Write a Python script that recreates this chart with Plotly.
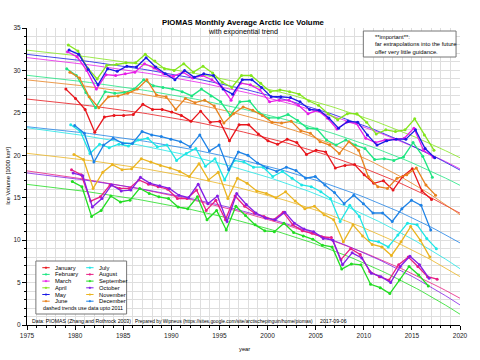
import numpy as np
import plotly.graph_objects as go

# ---------------- data (1000 km^3) ----------------
years_a = list(range(1979, 2018))   # Jan..Aug
years_b = list(range(1979, 2017))   # Sep..Dec
month_names = ["January", "February", "March", "April", "May", "June",
               "July", "August", "September", "October", "November", "December"]

jan = [27.8, 26.7, 25.4, 22.7, 24.5, 24.7, 24.7, 24.8, 26.0, 25.4,
       25.4, 25.1, 24.7, 24.0, 25.2, 23.9, 24.0, 21.7, 23.6, 23.6,
       22.5, 21.7, 21.3, 21.9, 21.5, 20.1, 20.6, 20.4, 18.5, 18.8,
       18.9, 17.7, 16.7, 17.0, 15.9, 17.5, 18.4, 15.8, 14.8]
feb = [30.2, 29.4, 27.4, 25.6, 27.5, 27.3, 27.4, 27.8, 28.9, 28.2,
       28.0, 27.8, 27.5, 27.0, 27.8, 27.0, 26.3, 24.7, 26.3, 26.4,
       25.0, 24.4, 24.4, 24.8, 24.1, 23.2, 23.1, 21.8, 21.2, 21.8,
       21.2, 20.8, 19.5, 19.6, 19.4, 19.8, 21.5, 19.9, 17.4]
mar = [32.2, 31.6, 30.0, 27.8, 29.5, 29.4, 29.6, 29.8, 30.8, 30.3,
       29.6, 29.3, 29.8, 29.1, 29.4, 28.9, 28.1, 26.5, 28.5, 28.3,
       27.7, 26.3, 26.5, 26.5, 25.9, 24.9, 25.3, 24.4, 23.1, 23.9,
       23.8, 22.0, 21.5, 21.8, 21.9, 22.0, 23.2, 20.6, 19.8]
apr = [33.0, 32.3, 30.3, 29.0, 30.6, 30.7, 30.9, 30.9, 31.9, 31.1,
       30.2, 30.0, 30.8, 29.8, 30.5, 29.7, 28.6, 28.0, 29.4, 29.4,
       28.5, 27.5, 27.7, 27.5, 27.2, 26.4, 25.9, 24.9, 24.2, 24.9,
       24.9, 23.9, 22.5, 23.0, 22.8, 23.0, 24.3, 22.4, 20.6]
may = [32.4, 31.9, 30.1, 28.3, 30.2, 29.9, 30.5, 30.4, 31.5, 30.4,
       29.6, 28.9, 30.0, 29.2, 29.6, 29.4, 27.8, 27.2, 28.9, 28.9,
       28.0, 26.9, 26.9, 26.8, 26.3, 25.4, 25.3, 24.4, 23.2, 24.0,
       23.9, 22.4, 21.2, 21.7, 21.9, 21.9, 23.0, 20.8, 19.7]
jun = [29.8, 29.1, 26.9, 25.6, 26.9, 27.0, 27.3, 27.8, 28.9, 27.1,
       26.9, 25.4, 26.7, 26.2, 26.5, 25.8, 23.8, 24.9, 25.7, 25.3,
       24.7, 23.9, 23.8, 24.0, 22.9, 22.6, 21.6, 21.2, 20.2, 21.6,
       20.6, 17.5, 16.3, 16.1, 17.3, 17.7, 18.5, 16.5, 15.3]
jul = [23.6, 22.8, 20.2, 21.3, 20.9, 21.3, 21.1, 21.8, 22.0, 21.0,
       21.2, 19.4, 20.2, 20.8, 18.7, 19.6, 17.1, 19.4, 19.2, 18.6,
       18.6, 17.5, 18.1, 17.3, 16.5, 16.3, 15.7, 14.9, 12.2, 14.1,
       12.8, 10.0, 9.8, 9.2, 10.6, 12.0, 11.8, 10.2, 9.0]
aug = [18.3, 17.7, 14.6, 15.1, 16.5, 16.1, 16.1, 17.1, 16.6, 16.3,
       16.0, 14.9, 14.9, 15.9, 13.5, 14.7, 12.4, 15.2, 14.0, 13.2,
       12.8, 12.4, 13.3, 11.8, 11.1, 10.8, 10.4, 10.3, 7.7, 9.0,
       8.3, 6.3, 5.7, 5.3, 7.1, 8.0, 6.9, 5.7, 5.4]
sep = [16.9, 16.3, 12.8, 13.5, 15.2, 14.5, 14.7, 16.1, 15.5, 15.1,
       14.9, 13.9, 13.7, 15.1, 12.4, 13.5, 11.2, 14.0, 12.9, 11.8,
       11.1, 11.0, 12.0, 10.9, 10.5, 10.1, 9.4, 9.2, 6.6, 7.2,
       7.1, 4.8, 4.4, 3.7, 5.3, 6.9, 5.9, 4.6]
oct_ = [17.9, 17.6, 13.9, 14.9, 16.5, 15.8, 15.9, 17.4, 16.7, 16.4,
        16.1, 15.3, 15.0, 16.6, 14.3, 15.2, 12.2, 15.5, 14.2, 13.2,
        12.6, 12.4, 13.3, 12.0, 11.3, 11.0, 10.2, 10.0, 7.1, 8.5,
        7.9, 6.1, 5.7, 5.0, 6.9, 8.1, 7.1, 5.5]
nov = [20.1, 19.5, 16.1, 18.0, 18.9, 18.3, 18.4, 19.6, 19.2, 18.8,
       18.5, 18.1, 17.5, 19.0, 17.1, 18.0, 14.9, 17.3, 16.7, 15.8,
       15.5, 15.0, 15.7, 14.6, 13.7, 14.0, 13.0, 12.4, 9.8, 11.8,
       10.5, 9.5, 9.2, 8.2, 9.8, 11.6, 10.0, 8.0]
dec = [23.5, 22.6, 19.2, 21.2, 22.0, 21.4, 21.4, 22.8, 22.4, 22.2,
       21.9, 21.6, 21.0, 22.4, 20.5, 21.2, 18.3, 20.4, 20.0, 19.1,
       18.5, 18.1, 18.6, 18.2, 17.3, 17.5, 16.5, 15.6, 14.3, 15.3,
       14.3, 13.2, 13.2, 12.2, 13.7, 14.7, 14.1, 11.2]

series = [jan, feb, mar, apr, may, jun, jul, aug, sep, oct_, nov, dec]
colors = ["#e8161c", "#1ee682", "#e81ee8", "#84e61e", "#1a1ae6", "#e8821e",
          "#1ee6e6", "#e81e84", "#22dd22", "#841ee6", "#ebb420", "#1e82e6"]

x_ticks = [1975, 1980, 1985, 1990, 1995, 2000, 2005, 2010, 2015, 2020]
y_ticks = [0, 5, 10, 15, 20, 25, 30, 35]

FONT = "Liberation Sans, Arial, sans-serif"


def exp_trend(t, v, t_eval):
    """least squares fit of v = a + b*exp(c*(t-1979))"""
    t = np.asarray(t, float)
    v = np.asarray(v, float)
    best = None
    for c in np.concatenate([np.linspace(-0.15, -0.002, 75), np.linspace(0.002, 0.3, 150)]):
        e = np.exp(c * (t - 1979))
        A = np.column_stack([np.ones_like(e), e])
        coef = np.linalg.lstsq(A, v, rcond=None)[0]
        r = float(np.sum((A @ coef - v) ** 2))
        if best is None or r < best[0]:
            best = (r, c, coef)
    _, c, coef = best
    return coef[0] + coef[1] * np.exp(c * (np.asarray(t_eval) - 1979))


fig = go.Figure()
t_eval = np.linspace(1975, 2020, 91)

for i, vals in enumerate(series):
    yrs = years_a if i < 8 else years_b
    t = [y + (i + 0.5) / 12 for y in yrs]
    fig.add_trace(go.Scatter(x=t_eval, y=exp_trend(t, vals, t_eval), mode="lines",
                             line=dict(color=colors[i], width=0.8), showlegend=False,
                             hoverinfo="skip"))

for i, vals in enumerate(series):
    yrs = years_a if i < 8 else years_b
    t = [y + (i + 0.5) / 12 for y in yrs]
    fig.add_trace(go.Scatter(x=t, y=vals, mode="lines+markers", name=month_names[i],
                             line=dict(color=colors[i], width=1.3),
                             marker=dict(color=colors[i], size=3), showlegend=False))

L, R, T, B = 27, 466, 28, 325


def px(xp):
    return (xp - L) / (R - L)


def py(yp):
    return (B - yp) / (B - T)


shapes = []
ann = []

# title
ann.append(dict(text="<b>PIOMAS Monthly Average Arctic Ice Volume</b>", x=px(246), y=py(22.5),
                xref="paper", yref="paper", showarrow=False, xanchor="center", yanchor="middle",
                font=dict(size=7.8, family=FONT, color="black")))
ann.append(dict(text="with exponential trend", x=px(246), y=py(31.5),
                xref="paper", yref="paper", showarrow=False, xanchor="center", yanchor="middle",
                font=dict(size=7.1, family=FONT, color="black")))

# important note box
shapes.append(dict(type="rect", xref="paper", yref="paper", x0=px(368), x1=px(462), y0=py(57), y1=py(31),
                   line=dict(color="#777777", width=1), fillcolor="white", layer="above"))
for txt, yy in [("**important**:", 36.5), ("far extrapolations into the future", 44),
                ("offer very little guidance.", 51.5)]:
    ann.append(dict(text=txt, x=px(378), y=py(yy), xref="paper", yref="paper", showarrow=False,
                    xanchor="left", yanchor="middle", font=dict(size=5.8, family=FONT, color="black")))

# legend box
shapes.append(dict(type="rect", xref="paper", yref="paper", x0=px(36), x1=px(128), y0=py(314), y1=py(261),
                   line=dict(color="#777777", width=1), fillcolor="white", layer="above"))
for i, name in enumerate(month_names):
    col_i, row = divmod(i, 6)
    yy = 267.7 + 6.7 * row
    sx0 = 42.5 if col_i == 0 else 87
    tx = 53 if col_i == 0 else 97.5
    shapes.append(dict(type="line", xref="paper", yref="paper", x0=px(sx0), x1=px(sx0 + 7.5),
                       y0=py(yy), y1=py(yy), line=dict(color=colors[i], width=1), layer="above"))
    shapes.append(dict(type="circle", xref="paper", yref="paper", x0=px(sx0 + 2.9), x1=px(sx0 + 4.6),
                       y0=py(yy + 0.85), y1=py(yy - 0.85), line=dict(color=colors[i], width=0.5),
                       fillcolor=colors[i], layer="above"))
    ann.append(dict(text=name, x=px(tx), y=py(yy), xref="paper", yref="paper", showarrow=False,
                    xanchor="left", yanchor="middle", font=dict(size=5.8, family=FONT, color="black")))
ann.append(dict(text="dashed trends use data upto 2011", x=px(41), y=py(307.5), xref="paper", yref="paper",
                showarrow=False, xanchor="left", yanchor="middle",
                font=dict(size=5.3, family=FONT, color="black")))

# footer line inside plot
for txt, xx, fs in [("Data: PIOMAS (Zhang and Rothrock 2003)", 30.5, 5.2),
                    ("Prepared by Wipneus (https://sites.google.com/site/arctischepinguin/home/piomas)", 134, 4.85),
                    ("2017-09-06", 322.5, 5.2)]:
    ann.append(dict(text=txt, x=px(xx), y=py(321), xref="paper", yref="paper", showarrow=False,
                    xanchor="left", yanchor="middle", font=dict(size=fs, family=FONT, color="black")))

# axis titles
ann.append(dict(text="year", x=px(248), y=py(348.5), xref="paper", yref="paper", showarrow=False,
                xanchor="center", yanchor="middle", font=dict(size=5.8, family=FONT, color="black")))
ann.append(dict(text="Ice Volume [1000 km³]", x=px(7.5), y=py(176), xref="paper", yref="paper",
                showarrow=False, textangle=-90, xanchor="center", yanchor="middle",
                font=dict(size=5.8, family=FONT, color="black")))

fig.update_layout(
    width=480, height=360,
    margin=dict(l=L, r=480 - R, t=T, b=360 - B, pad=0),
    paper_bgcolor="white", plot_bgcolor="white",
    showlegend=False,
    shapes=shapes, annotations=ann,
    font=dict(family=FONT, size=6.5, color="#222222"),
    xaxis=dict(range=[1975, 2020], tickvals=x_ticks, ticktext=[str(v) for v in x_ticks],
               showline=True, linecolor="black", linewidth=1, ticks="outside", ticklen=4,
               tickcolor="black", tickwidth=1, showgrid=True, gridcolor="#dedede", gridwidth=0.6,
               zeroline=False, tickfont=dict(size=6.5, family=FONT, color="#222222"),
               minor=dict(dtick=1, tick0=1975, showgrid=True, gridcolor="#dedede", gridwidth=0.6,
                          ticks="outside", ticklen=2, tickcolor="black")),
    yaxis=dict(range=[0, 35], tickvals=y_ticks, ticktext=[str(v) for v in y_ticks],
               showline=True, linecolor="black", linewidth=1, ticks="outside", ticklen=4,
               tickcolor="black", tickwidth=1, showgrid=True, gridcolor="#dedede", gridwidth=0.6,
               zeroline=False, tickfont=dict(size=6.5, family=FONT, color="#222222"),
               minor=dict(dtick=1, tick0=0, showgrid=True, gridcolor="#dedede", gridwidth=0.6,
                          ticks="outside", ticklen=2, tickcolor="black")),
)

fig.write_html("out.html", config={"displayModeBar": False},
               post_script="document.body.style.margin='0';")
